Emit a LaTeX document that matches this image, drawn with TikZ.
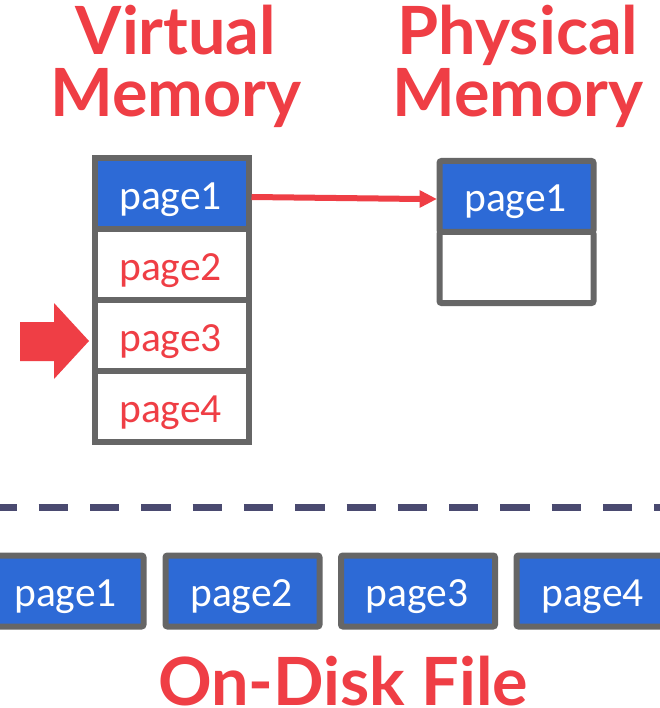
\documentclass[tikz,border=0pt]{standalone}
\usepackage{fontspec}
\setmainfont{Carlito}
\newfontfamily\titlefont{Lato}
\definecolor{cellblue}{HTML}{2D6AD6}
\definecolor{cellgray}{HTML}{666666}
\definecolor{accent}{HTML}{EF3E45}
\definecolor{rulecol}{HTML}{4A4A70}
\tikzset{
  x=1pt,y=-1pt,
  cell/.style={draw=cellgray,line width=6pt,minimum width=154pt,minimum height=71pt,inner sep=0pt,text height=31pt,text depth=0pt,font=\fontsize{41.5}{42}\selectfont,execute at begin node=\hspace*{-2pt}},
  used/.style={cell,fill=cellblue,text=white},
  free/.style={cell,fill=white,text=accent},
  soft/.style={rounded corners=2pt},
  titlebase/.style={text=accent,inner sep=0pt,font=\titlefont\bfseries\fontsize{66.5}{62}\selectfont},
  title/.style={titlebase,align=center},
  caption/.style={titlebase,text height=44pt,text depth=0pt},
}
\begin{document}
\begin{tikzpicture}
\useasboundingbox (0,0) rectangle (659,708);
\fill[white] (0,0) rectangle (659,708);
\node[title] (tv) at (176,66) {Virtual\\Memory};
\node[title] (tp) at (518,66) {Physical\\Memory};
\node[free] (v2) at (171.5,264.5) {page2};
\node[free] (v3) at (171.5,335.5) {page3};
\node[free] (v4) at (171.5,406.5) {page4};
\node[used] (v1) at (171.5,194) {page1};
\node[free,soft] (p2) at (516.5,267.5) {};
\node[used,soft] (p1) at (516.5,196.5) {page1};
\draw[rulecol,line width=7pt,dash pattern=on 29.3pt off 22pt] (-12.6,507.7) -- (672,507.7);
\node[used,soft] (d1) at (66.5,591) {page1};
\node[used,soft] (d2) at (242.5,591) {page2};
\node[used,soft] (d3) at (418,591) {page3};
\node[used,soft] (d4) at (593.5,591) {page4};
\node[caption] (tf) at (343,683) {On-Disk File};
\fill[accent] (20,322) -- (54,322) -- (54,303) -- (89,341) -- (54,379) -- (54,361) -- (20,361) -- cycle;
\draw[accent,line width=6pt] ([yshift=-3pt]v1.east) -- ([yshift=-2.5pt,xshift=-16pt]p1.west);
\fill[accent] ([yshift=-11.5pt,xshift=-17pt]p1.west) -- ([yshift=-2.5pt]p1.west) -- ([yshift=6.5pt,xshift=-17pt]p1.west) -- cycle;
\end{tikzpicture}
\end{document}
